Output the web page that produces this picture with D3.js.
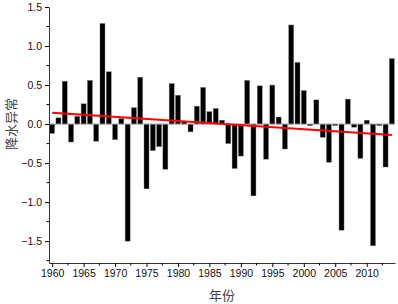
<!DOCTYPE html>
<html>
<head>
<meta charset="utf-8">
<script src="https://cdn.jsdelivr.net/npm/d3@7"></script>
<style>
  body { margin: 0; background: #fff; }
  svg { display: block; }
  .tick text { font-family: Arial, "Liberation Sans", sans-serif; font-size: 10.5px; fill: #111; }
</style>
</head>
<body>
<div id="container"></div>
<script>
// years and precipitation anomaly
const years = d3.range(1960, 2015);
const anomaly = [
  -0.12, 0.08, 0.55, -0.23, 0.10, 0.26, 0.56, -0.22, 1.29, 0.67,
  -0.20, 0.07, -1.50, 0.21, 0.60, -0.83, -0.34, -0.29, -0.58, 0.52,
  0.37, 0.03, -0.10, 0.23, 0.47, 0.16, 0.20, 0.05, -0.25, -0.57,
  -0.41, 0.56, -0.92, 0.49, -0.45, 0.50, 0.09, -0.32, 1.27, 0.79,
  0.43, -0.02, 0.31, -0.17, -0.49, -0.02, -1.36, 0.32, -0.04, -0.44,
  0.05, -1.56, -0.02, -0.55, 0.84
];
// linear trend line end points
const trendYears = [1960, 2014];
const trendValues = [0.145, -0.14];

const xTicks = d3.range(1960, 2011, 5);
const yTicks = [-1.5, -1.0, -0.5, 0.0, 0.5, 1.0, 1.5];
const xLabel = "年份";
const yLabel = "降水异常";

const width = 398, height = 304;
const margin = { top: 7, right: 3, bottom: 41, left: 49 };

const svg = d3.select("#container").append("svg")
  .attr("width", width)
  .attr("height", height);

const x = d3.scaleLinear()
  .domain([1959.5, 2014.5])
  .range([margin.left, width - margin.right]);

const y = d3.scaleLinear()
  .domain([-1.78, 1.5])
  .range([height - margin.bottom, margin.top]);

const barW = (x(1) - x(0)) * 0.8;

// bars
svg.selectAll("rect.bar")
  .data(years.map((d, i) => ({ year: d, value: anomaly[i] })))
  .join("rect")
  .attr("class", "bar")
  .attr("x", d => x(d.year) - barW / 2)
  .attr("width", barW)
  .attr("y", d => y(Math.max(0, d.value)))
  .attr("height", d => Math.abs(y(d.value) - y(0)))
  .attr("fill", "#000")
  .attr("stroke", "#888")
  .attr("stroke-width", 0.4);

// zero line
svg.append("line")
  .attr("x1", margin.left).attr("x2", width - margin.right)
  .attr("y1", y(0)).attr("y2", y(0))
  .attr("stroke", "#999")
  .attr("stroke-width", 0.8);

// trend
const line = d3.line().x(d => x(d[0])).y(d => y(d[1]));
svg.append("path")
  .attr("d", line(trendYears.map((d, i) => [d, trendValues[i]])))
  .attr("stroke", "#f00")
  .attr("stroke-width", 2)
  .attr("fill", "none");

// minor ticks
const minorX = d3.range(1962.5, 2014, 5);
const minorY = d3.range(-1.75, 1.5, 0.5);

const xAxisG = svg.append("g")
  .attr("transform", `translate(0,${height - margin.bottom})`)
  .call(d3.axisBottom(x).tickValues(xTicks).tickFormat(d3.format("d")).tickSize(4).tickPadding(3).tickSizeOuter(0));
xAxisG.selectAll(".minor")
  .data(minorX)
  .join("line")
  .attr("class", "minor")
  .attr("x1", d => x(d)).attr("x2", d => x(d))
  .attr("y1", 0).attr("y2", 2.5)
  .attr("stroke", "#000");

const yAxisG = svg.append("g")
  .attr("transform", `translate(${margin.left},0)`)
  .call(d3.axisLeft(y).tickValues(yTicks).tickFormat(d3.format(".1f")).tickSize(4).tickPadding(3).tickSizeOuter(0));
yAxisG.selectAll(".minor")
  .data(minorY)
  .join("line")
  .attr("class", "minor")
  .attr("y1", d => y(d)).attr("y2", d => y(d))
  .attr("x1", 0).attr("x2", -2.5)
  .attr("stroke", "#000");

svg.selectAll(".domain").attr("stroke", "#333");

// axis titles
svg.append("text")
  .text(xLabel)
  .attr("x", (margin.left + width - margin.right) / 2)
  .attr("y", 300)
  .attr("text-anchor", "middle")
  .style("font-family", "'Noto Sans CJK SC'")
  .style("font-size", "13px")
  .attr("fill", "#444");

svg.append("text")
  .text(yLabel)
  .attr("transform", `translate(16,${y(0)}) rotate(-90)`)
  .attr("text-anchor", "middle")
  .style("font-family", "'Noto Sans CJK SC'")
  .style("font-size", "13px")
  .attr("fill", "#444");
</script>
</body>
</html>
